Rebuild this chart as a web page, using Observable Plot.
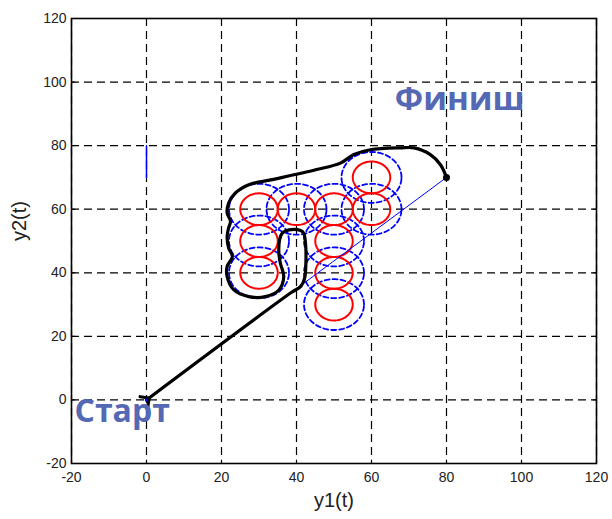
<!DOCTYPE html>
<html><head><meta charset="utf-8">
<script src="https://cdn.jsdelivr.net/npm/d3@7"></script>
<script src="https://cdn.jsdelivr.net/npm/@observablehq/plot@0.6"></script>
<style>
html,body{margin:0;padding:0;background:#fff;}
</style>
</head><body><div id="chart"></div>
<script>
// ---- data ----
const xTicks = [-20, 0, 20, 40, 60, 80, 100, 120];
const yTicks = [-20, 0, 20, 40, 60, 80, 100, 120];
const obstacleX = [30, 30, 30, 40, 50, 50, 50, 50, 60, 60];
const obstacleY = [40, 50, 60, 60, 60, 50, 40, 30, 60, 70];
const innerRadius = 5;
const outerRadius = 8;
const pathX = [0, 38.5, 41.2, 42.2, 42.5, 42.4, 41.9, 41.1, 38, 36.2, 35.5, 35.3, 35.7, 36.6, 35.3, 31.7, 27.3, 23.3, 21.5, 21.5, 22.9, 21.9, 21.5, 21.9, 22.4, 21.5, 21.9, 23.7, 27.3, 33.5, 45.1, 51.7, 55.3, 59.7, 67.7, 71.3, 75.7, 78.4, 80];
const pathY = [0, 33.7, 35.8, 38.5, 43, 49.4, 52.5, 53.3, 53.5, 52.5, 50.4, 46.2, 43, 38.8, 34.6, 32.5, 32.5, 34.6, 38.8, 42, 45.1, 47.8, 51.4, 54.1, 56.2, 58.8, 61.9, 65.1, 67.7, 69.3, 72.4, 74.5, 77.2, 78.7, 79.3, 79.3, 77.2, 74, 70];
const directX = [0, 80];
const directY = [0, 70];
const markX = [0, 0];
const markY = [70, 80];
const labelText = ["Финиш", "Старт"];
const labelX = [66.2, -19.2];
const labelY = [94.5, -3.8];
const labelSize = [33, 32];

// ---- geometry ----
const angles = d3.range(0, 361, 4);
const ring = (r) => obstacleX.flatMap((cx, i) => angles.map(a => ({
  id: i,
  x: cx + r * Math.cos(a * Math.PI / 180),
  y: obstacleY[i] + r * Math.sin(a * Math.PI / 180)
})));
const outer = ring(outerRadius);
const inner = ring(innerRadius);
const path = pathX.map((x, i) => ({x, y: pathY[i]}));
const direct = directX.map((x, i) => ({x, y: directY[i]}));
const mark = markX.map((x, i) => ({x, y: markY[i]}));
const labels = labelText.map((t, i) => ({t, x: labelX[i], y: labelY[i], s: labelSize[i]}));
const xmin = xTicks[0], xmax = xTicks[xTicks.length - 1];
const ymin = yTicks[0], ymax = yTicks[yTicks.length - 1];
const tl = 1.0;

const chart = Plot.plot({
  width: 612, height: 519,
  marginLeft: 71, marginRight: 16, marginTop: 18, marginBottom: 56,
  style: {fontFamily: "'Liberation Sans', Arial, sans-serif", fontSize: "14px", color: "#222", background: "white"},
  x: {domain: [xmin, xmax], ticks: xTicks, label: null, tickSize: 0, tickPadding: 9, tickFormat: d => String(d)},
  y: {domain: [ymin, ymax], ticks: yTicks, label: null, tickSize: 0, tickPadding: 5, tickFormat: d => String(d)},
  marks: [
    Plot.ruleX(xTicks, {stroke: "black", strokeWidth: 1.2, strokeDasharray: "8,5"}),
    Plot.ruleY(yTicks, {stroke: "black", strokeWidth: 1.2, strokeDasharray: "8,5"}),
    Plot.link(xTicks, {x1: d => d, x2: d => d, y1: ymin, y2: ymin + tl * 1.2, stroke: "black"}),
    Plot.link(xTicks, {x1: d => d, x2: d => d, y1: ymax, y2: ymax - tl * 1.2, stroke: "black"}),
    Plot.link(yTicks, {y1: d => d, y2: d => d, x1: xmin, x2: xmin + tl, stroke: "black"}),
    Plot.link(yTicks, {y1: d => d, y2: d => d, x1: xmax, x2: xmax - tl, stroke: "black"}),
    Plot.line(outer, {x: "x", y: "y", z: "id", stroke: "#0000ff", strokeWidth: 1.8, strokeDasharray: "5,3"}),
    Plot.line(inner, {x: "x", y: "y", z: "id", stroke: "#ff0000", strokeWidth: 2}),
    Plot.line(direct, {x: "x", y: "y", stroke: "#0000ff", strokeWidth: 1}),
    Plot.line(mark, {x: "x", y: "y", stroke: "#0000ff", strokeWidth: 1.5}),
    Plot.line(path, {x: "x", y: "y", stroke: "black", strokeWidth: 3.2, curve: "catmull-rom", markerStart: "arrow"}),
    Plot.dot([direct[1]], {x: "x", y: "y", r: 3.5, fill: "black"}),
    Plot.dot([direct[0]], {x: "x", y: "y", r: 1.5, fill: "#0000ff"}),
    Plot.frame({stroke: "black", strokeWidth: 1.6}),
    Plot.text(labels.slice(0, 1), {x: "x", y: "y", text: "t", textAnchor: "start", fontSize: labelSize[0], fontWeight: "bold", fontFamily: "'Open Sans', sans-serif", fill: "#5568b4"}),
    Plot.text(labels.slice(1), {x: "x", y: "y", text: "t", textAnchor: "start", fontSize: labelSize[1], fontWeight: "bold", fontFamily: "'Open Sans', sans-serif", fill: "#5568b4"}),
    Plot.text(["y1(t)"], {text: d => d, frameAnchor: "bottom", dy: 43, fontSize: 20, fill: "#222"}),
    Plot.text(["y2(t)"], {text: d => d, frameAnchor: "left", dx: -52, rotate: -90, fontSize: 20, fill: "#222"})
  ]
});
document.getElementById("chart").appendChild(chart);
</script>
</body></html>
